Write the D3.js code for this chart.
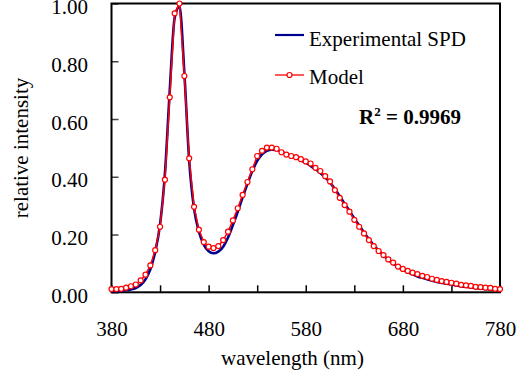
<!DOCTYPE html>
<html><head><meta charset="utf-8">
<script src="https://cdn.jsdelivr.net/npm/d3@7"></script>
<style>
body{margin:0;background:#fff}
svg{display:block}
svg text{font-family:"Liberation Serif","Times New Roman",serif !important;fill:#000}
</style>
</head><body><svg id="c" width="527" height="376" font-family="Liberation Serif, serif"></svg>
<script>
const wavelengths = [380,385,390,395,400,405,410,415,420,425,430,435,440,445,450,455,460,465,470,475,480,485,490,495,500,505,510,515,520,525,530,535,540,545,550,555,560,565,570,575,580,585,590,595,600,605,610,615,620,625,630,635,640,645,650,655,660,665,670,675,680,685,690,695,700,705,710,715,720,725,730,735,740,745,750,755,760,765,770,775,780];
const experimentalSPD = [0.004,0.004,0.005,0.007,0.010,0.015,0.025,0.045,0.080,0.140,0.235,0.410,0.700,0.950,0.990,0.760,0.455,0.290,0.210,0.165,0.142,0.135,0.141,0.158,0.190,0.233,0.279,0.329,0.376,0.420,0.455,0.478,0.490,0.494,0.493,0.487,0.479,0.472,0.465,0.457,0.448,0.438,0.426,0.413,0.398,0.380,0.358,0.333,0.307,0.282,0.256,0.231,0.207,0.184,0.163,0.145,0.128,0.113,0.100,0.088,0.078,0.069,0.062,0.055,0.050,0.045,0.040,0.036,0.033,0.030,0.027,0.024,0.021,0.019,0.017,0.015,0.013,0.012,0.010,0.009,0.008];
const modelSPD = [0.011,0.011,0.012,0.016,0.021,0.027,0.041,0.061,0.093,0.146,0.227,0.390,0.675,0.966,1.000,0.749,0.464,0.296,0.217,0.174,0.158,0.153,0.160,0.181,0.210,0.249,0.291,0.337,0.382,0.426,0.472,0.490,0.501,0.501,0.497,0.485,0.477,0.472,0.468,0.461,0.453,0.446,0.431,0.420,0.402,0.384,0.354,0.327,0.302,0.279,0.251,0.227,0.204,0.181,0.160,0.143,0.129,0.114,0.103,0.089,0.081,0.074,0.068,0.063,0.057,0.053,0.047,0.043,0.039,0.036,0.033,0.030,0.026,0.024,0.022,0.019,0.018,0.016,0.015,0.012,0.011];
const xTicks = [380,430,480,530,580,630,680,730,780];
const xLabels = [380,480,580,680,780];
const yTicks = [0,0.2,0.4,0.6,0.8,1.0];
const seriesNames = ["Experimental SPD","Model"];
const r2Text = "0.9969";

const FONT = '"Liberation Serif","Times New Roman",serif';
const svg = d3.select("#c");
const L=111.5, R=500, T=3.5, B=292.3;
const x = d3.scaleLinear().domain([380,780]).range([L,R]);
const y = d3.scaleLinear().domain([0,1]).range([B,T]);

// x axis
const gx = svg.append("g").attr("transform",`translate(0,${B})`)
  .call(d3.axisBottom(x).tickValues(xTicks).tickSizeInner(-7).tickSizeOuter(0)
    .tickFormat(d => xLabels.includes(d) ? d : ""));
gx.attr("font-family",FONT).attr("font-size",21);
gx.select(".domain").remove();
gx.selectAll(".tick line").attr("stroke","#000").attr("stroke-width",1.5);
gx.selectAll(".tick text").attr("y",44).attr("dy",0);

// y axis
const gy = svg.append("g").attr("transform",`translate(${L},0)`)
  .call(d3.axisLeft(y).tickValues(yTicks).tickSizeInner(-7).tickSizeOuter(0).tickFormat(d3.format(".2f")));
gy.attr("font-family",FONT).attr("font-size",21);
gy.select(".domain").remove();
gy.selectAll(".tick line").attr("stroke","#444").attr("stroke-width",1.5);
gy.selectAll(".tick text").attr("x",-23.5).attr("dy",0).attr("y",10);

// frame
svg.append("rect").attr("x",L).attr("y",T).attr("width",R-L).attr("height",B-T)
  .attr("fill","none").attr("stroke","#000").attr("stroke-width",2);

const dataExp = wavelengths.map((w,i)=>[w,experimentalSPD[i]]);
const dataMod = wavelengths.map((w,i)=>[w,modelSPD[i]]);

svg.append("path").datum(dataExp)
  .attr("d", d3.line().x(d=>x(d[0])).y(d=>y(d[1])).curve(d3.curveMonotoneX))
  .attr("fill","none").attr("stroke","#000090").attr("stroke-width",2.6);

svg.append("path").datum(dataMod)
  .attr("d", d3.line().x(d=>x(d[0])).y(d=>y(d[1])))
  .attr("fill","none").attr("stroke","#ff0000").attr("stroke-width",1.5);

svg.append("g").selectAll("circle").data(dataMod).join("circle")
  .attr("cx",d=>x(d[0])).attr("cy",d=>y(d[1])).attr("r",2.5)
  .attr("fill","#fff").attr("stroke","#ff0000").attr("stroke-width",1.2);

// legend
const lg = svg.append("g").attr("font-family",FONT).attr("font-size",21);
lg.append("line").attr("x1",275).attr("x2",304).attr("y1",35).attr("y2",35).attr("stroke","#000090").attr("stroke-width",2.2);
lg.append("text").attr("x",309).attr("y",46).text(seriesNames[0]);
lg.append("line").attr("x1",275).attr("x2",304).attr("y1",75).attr("y2",75).attr("stroke","#ff0000").attr("stroke-width",1.3);
lg.append("circle").attr("cx",289.5).attr("cy",75).attr("r",2.5).attr("fill","#fff").attr("stroke","#ff0000").attr("stroke-width",1.2);
lg.append("text").attr("x",309).attr("y",84).text(seriesNames[1]);

const rt = lg.append("text").attr("x",359).attr("y",124).attr("font-weight","bold");
rt.append("tspan").text("R");
rt.append("tspan").attr("dy",-8).attr("font-size",13).text("2");
rt.append("tspan").attr("dy",8).text(" = " + r2Text);

// axis titles
svg.append("text").attr("x",292.5).attr("y",365).attr("text-anchor","middle").attr("font-family",FONT).attr("font-size",21).text("wavelength (nm)");
svg.append("text").attr("transform","translate(28,148) rotate(-90)").attr("text-anchor","middle").attr("font-family",FONT).attr("font-size",21).text("relative intensity");
</script>
</body></html>
